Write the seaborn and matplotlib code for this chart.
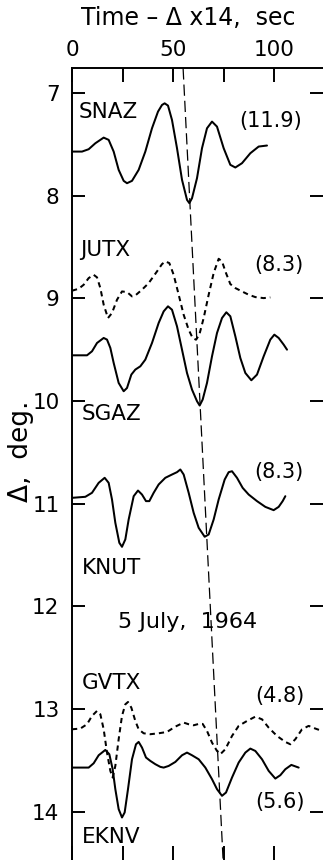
import matplotlib
matplotlib.use("Agg")
import matplotlib.pyplot as plt
import seaborn as sns
import pandas as pd

# ---------------- data (time in sec, distance in deg) ----------------
snaz_t = [0, 4.95, 8.25, 11.55, 15.68, 18.15, 20.63, 23.10, 25.58, 27.23, 29.70, 33.0, 36.3, 39.6,
          42.57, 44.55, 45.87, 47.52, 49.5, 51.98, 54.46, 56.93, 58.09, 59.41, 61.88, 64.36, 66.83,
          69.31, 71.78, 75.08, 78.38, 80.86, 84.16, 88.28, 92.41, 96.53]
snaz_d = [7.571, 7.571, 7.548, 7.490, 7.435, 7.457, 7.571, 7.749, 7.856, 7.879, 7.856, 7.749, 7.571,
          7.344, 7.182, 7.117, 7.101, 7.123, 7.263, 7.538, 7.846, 8.041, 8.073, 8.025, 7.830, 7.538,
          7.344, 7.279, 7.328, 7.538, 7.700, 7.726, 7.684, 7.587, 7.522, 7.512]

jutx_t = [0, 3.30, 5.78, 8.25, 10.73, 12.38, 14.03, 15.68, 17.82, 19.80, 22.28, 24.75, 27.23, 29.70,
          31.35, 34.65, 37.95, 42.08, 44.55, 46.20, 48.18, 50.33, 52.81, 55.28, 57.76, 59.74, 61.39,
          63.04, 65.18, 67.66, 70.13, 72.61, 74.26, 76.24, 78.38, 80.86, 84.16, 87.46, 90.76, 94.88,
          98.18]
jutx_d = [8.926, 8.907, 8.868, 8.803, 8.771, 8.796, 8.900, 9.062, 9.192, 9.143, 9.014, 8.933, 8.939,
          8.981, 8.972, 8.916, 8.852, 8.738, 8.667, 8.641, 8.657, 8.771, 8.965, 9.160, 9.306, 9.387,
          9.403, 9.354, 9.192, 8.965, 8.754, 8.615, 8.641, 8.754, 8.861, 8.900, 8.933, 8.965, 8.988,
          8.998, 8.991]

sgaz_t = [0, 7.43, 9.90, 12.38, 15.68, 17.33, 18.98, 20.63, 23.10, 25.58, 27.23, 29.37, 31.35, 33.83,
          36.30, 39.60, 42.90, 45.38, 47.52, 49.50, 51.98, 54.46, 56.93, 59.41, 61.88, 63.20, 64.69,
          66.83, 69.31, 71.78, 74.26, 76.40, 78.38, 80.86, 83.33, 85.81, 88.78, 91.58, 94.88, 98.18,
          100.17, 102.31, 104.79, 106.44]
sgaz_d = [9.555, 9.555, 9.516, 9.435, 9.386, 9.402, 9.483, 9.629, 9.824, 9.905, 9.873, 9.743, 9.694,
          9.662, 9.597, 9.435, 9.240, 9.127, 9.078, 9.111, 9.273, 9.500, 9.727, 9.889, 10.002, 10.044,
          9.986, 9.824, 9.565, 9.338, 9.192, 9.136, 9.175, 9.370, 9.581, 9.727, 9.798, 9.743, 9.565,
          9.402, 9.354, 9.386, 9.451, 9.500]

knut_t = [0, 6.60, 9.90, 13.20, 16.17, 18.15, 19.80, 21.45, 23.43, 24.75, 26.40, 28.05, 30.53, 32.67,
          34.65, 36.63, 38.28, 40.43, 42.90, 46.20, 49.50, 51.98, 53.63, 55.28, 57.76, 60.23, 62.71,
          65.68, 67.66, 70.13, 72.61, 75.58, 77.56, 79.21, 81.68, 84.49, 87.46, 91.58, 95.71, 99.83,
          102.31, 104.29, 105.61]
knut_d = [10.943, 10.933, 10.894, 10.797, 10.748, 10.797, 10.959, 11.186, 11.381, 11.420, 11.348,
          11.154, 10.927, 10.872, 10.911, 10.975, 10.975, 10.894, 10.813, 10.748, 10.716, 10.693,
          10.667, 10.716, 10.894, 11.089, 11.235, 11.322, 11.300, 11.154, 10.959, 10.765, 10.693,
          10.684, 10.748, 10.846, 10.911, 10.975, 11.031, 11.063, 11.031, 10.975, 10.927]

gvtx_t = [0, 4.13, 7.43, 9.90, 12.38, 14.03, 15.68, 17.33, 18.98, 20.13, 21.45, 23.10, 24.75, 26.40,
          27.72, 29.37, 31.35, 33.00, 35.48, 38.78, 42.90, 47.03, 51.16, 55.28, 57.76, 60.23, 62.71,
          64.69, 66.83, 69.31, 71.78, 73.43, 75.91, 79.21, 82.51, 86.63, 90.76, 94.06, 97.36, 101.49,
          105.61, 108.09, 110.56, 113.86, 117.16, 120.46, 123.76]
gvtx_d = [13.197, 13.190, 13.148, 13.067, 13.018, 13.051, 13.197, 13.424, 13.602, 13.667, 13.554,
          13.294, 13.067, 12.954, 12.931, 12.986, 13.116, 13.197, 13.236, 13.245, 13.236, 13.223,
          13.171, 13.132, 13.148, 13.158, 13.145, 13.145, 13.213, 13.327, 13.408, 13.440, 13.391,
          13.262, 13.164, 13.116, 13.074, 13.100, 13.181, 13.262, 13.320, 13.343, 13.294, 13.197,
          13.164, 13.190, 13.213]

eknv_t = [0, 8.25, 10.73, 13.20, 16.50, 18.48, 20.13, 21.45, 23.10, 24.75, 26.07, 27.72, 29.70, 31.68,
          33.00, 34.65, 36.63, 38.78, 41.25, 43.73, 45.38, 47.85, 51.16, 54.46, 56.93, 59.41, 62.71,
          66.01, 69.31, 71.78, 74.26, 76.24, 79.21, 82.51, 85.81, 88.28, 90.76, 94.06, 97.36, 100.66,
          103.14, 105.61, 108.58, 112.21]
eknv_d = [13.570, 13.570, 13.528, 13.450, 13.398, 13.440, 13.586, 13.780, 13.975, 14.056, 14.007,
          13.780, 13.489, 13.343, 13.320, 13.375, 13.472, 13.505, 13.537, 13.563, 13.570, 13.554,
          13.515, 13.450, 13.424, 13.450, 13.489, 13.570, 13.683, 13.780, 13.845, 13.813, 13.667,
          13.521, 13.424, 13.385, 13.408, 13.489, 13.602, 13.677, 13.644, 13.586, 13.544, 13.570]

# long-dashed alignment line
align_t = [55.0, 74.8]
align_d = [6.76, 14.47]

stations = ["SNAZ", "JUTX", "SGAZ", "KNUT", "GVTX", "EKNV"]
station_label_t = [3.5, 4.0, 5.0, 5.0, 5.0, 5.0]
station_label_d = [7.19, 8.53, 10.13, 11.63, 12.75, 14.25]

amp_labels = ["(11.9)", "(8.3)", "(8.3)", "(4.8)", "(5.6)"]
amp_label_t = [114.0, 114.4, 114.4, 115.2, 115.2]
amp_label_d = [7.27, 8.68, 10.69, 12.87, 13.91]

yticks = [7, 8, 9, 10, 11, 12, 13, 14]
ytick_labels = ["7", "8", "9", "10", "11", "12", "13", "14"]
xticks = [0, 25, 50, 75, 100]
xtick_labels = ["0", "", "50", "", "100"]

# ---------------- figure ----------------
sns.set_style("ticks")
plt.rcParams["font.family"] = ["DejaVu Sans"]
for key in ["text.color", "axes.labelcolor", "xtick.color", "ytick.color", "axes.edgecolor"]:
    plt.rcParams[key] = "black"

W, H = 323, 860
fig = plt.figure(figsize=(W / 100, H / 100), dpi=100)
ax = fig.add_axes([72 / W, 0.0, (W - 72) / W, (H - 68) / H])

traces = [
    (snaz_t, snaz_d, "-"),
    (jutx_t, jutx_d, (0, (2.6, 2.0))),
    (sgaz_t, sgaz_d, "-"),
    (knut_t, knut_d, "-"),
    (gvtx_t, gvtx_d, (0, (2.6, 2.0))),
    (eknv_t, eknv_d, "-"),
]
for t, d, ls in traces:
    df = pd.DataFrame({"t": t, "d": d})
    sns.lineplot(data=df, x="t", y="d", ax=ax, sort=False, estimator=None,
                 color="black", linewidth=1.45, linestyle=ls)

df_a = pd.DataFrame({"t": align_t, "d": align_d})
sns.lineplot(data=df_a, x="t", y="d", ax=ax, sort=False, estimator=None,
             color="black", linewidth=0.9, linestyle=(0, (9, 4)))

ax.set_xlim(0, (W - 72) / 2.02)
ax.set_ylim(14.47, 6.757)

for name, t, d in zip(stations, station_label_t, station_label_d):
    ax.text(t, d, name, ha="left", va="center", fontsize=15.5, color="black")
for lab, t, d in zip(amp_labels, amp_label_t, amp_label_d):
    ax.text(t, d, lab, ha="right", va="center", fontsize=15, color="black")
ax.text(22.8, 12.15, "5 July,  1964", ha="left", va="center", fontsize=16, color="black")

ax.set_yticks(yticks)
ax.set_yticklabels(ytick_labels, fontsize=15.5)
ax.xaxis.set_ticks_position("both")
ax.xaxis.set_label_position("top")
ax.set_xticks(xticks)
ax.set_xticklabels(xtick_labels, fontsize=15.5)
ax.tick_params(axis="x", which="both", top=True, bottom=True, labeltop=True, labelbottom=False,
               direction="in", length=10, width=1.4, pad=6, colors="black")
ax.tick_params(axis="y", which="both", left=True, right=True, labelleft=True, labelright=False,
               direction="in", length=9.5, width=1.4, pad=9, colors="black")
ax.set_xlabel("")
ax.set_ylabel("")
for s in ["right", "bottom"]:
    ax.spines[s].set_visible(False)
for s in ["left", "top"]:
    ax.spines[s].set_linewidth(1.4)
    ax.spines[s].set_color("black")

fig.text(188 / W, 1 - 18 / H, "Time \u2013 \u0394 x14,  sec", ha="center", va="center",
         fontsize=17, color="black")
fig.text(21 / W, 1 - 451 / H, "\u0394,  deg.", ha="center", va="center", rotation=90,
         fontsize=19, color="black")

fig.savefig("out.png", dpi=100)
